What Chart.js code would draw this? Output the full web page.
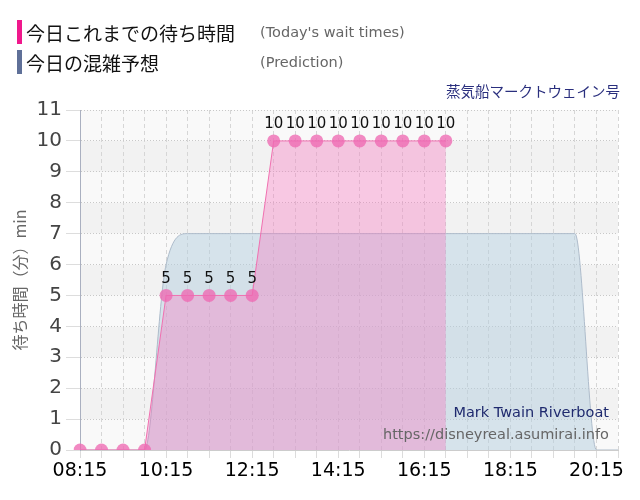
<!DOCTYPE html>
<html>
<head>
<meta charset="utf-8">
<script src="https://cdn.jsdelivr.net/npm/chart.js@4.4.0/dist/chart.umd.min.js"></script>
<style>
  html, body { margin: 0; padding: 0; background: #fff; }
  #wrap { position: relative; width: 640px; height: 500px; overflow: hidden; }
  #c { position: absolute; left: 0; top: 0; }
  .leg { position: absolute; left: 17px; height: 24px; display: flex; align-items: center; }
  .bar { width: 5px; height: 24px; margin-right: 4px; }
  .jp { font-family: "Noto Sans CJK JP", sans-serif; font-size: 19px; color: #111; width: 234px; }
  .en { font-family: "DejaVu Sans", sans-serif; font-size: 14.5px; color: #666; }
  .ttl { position: absolute; right: 20px; top: 80px; font-family: "Noto Sans CJK JP", sans-serif; font-size: 14.5px; color: #2a2f7e; }
  .wm { position: absolute; right: 31px; font-family: "DejaVu Sans", sans-serif; font-size: 14.5px; white-space: nowrap; }
</style>
</head>
<body>
<div id="wrap">
  <canvas id="c" width="640" height="500"></canvas>
  <div class="leg" style="top:20px"><div class="bar" style="background:#f0188c"></div><span class="jp">今日これまでの待ち時間</span><span class="en">(Today's wait times)</span></div>
  <div class="leg" style="top:50px"><div class="bar" style="background:#5f7098"></div><span class="jp">今日の混雑予想</span><span class="en">(Prediction)</span></div>
  <div class="ttl">蒸気船マークトウェイン号</div>
  <div class="wm" style="top:404px;color:#1f2a6e">Mark Twain Riverboat</div>
  <div class="wm" style="top:426px;color:#666">https://disneyreal.asumirai.info</div>
</div>
<script>
const timeLabels = ["08:15","08:45","09:15","09:45","10:15","10:45","11:15","11:45","12:15","12:45","13:15","13:45","14:15","14:45","15:15","15:45","16:15","16:45","17:15","17:45","18:15","18:45","19:15","19:45","20:15","20:45"];
const waitTimes = [0,0,0,0,5,5,5,5,5,10,10,10,10,10,10,10,10,10];
const prediction = [0,0,0,0,6,7,7,7,7,7,7,7,7,7,7,7,7,7,7,7,7,7,7,7,0,0];
const yTicks = [0,1,2,3,4,5,6,7,8,9,10,11];
const yTitle = "待ち時間（分）min";

const bandPlugin = {
  id: 'bands',
  beforeDraw(chart) {
    const {ctx, chartArea: a, scales: {y}} = chart;
    ctx.save();
    for (let k = 0; k < yTicks.length - 1; k++) {
      const t = y.getPixelForValue(yTicks[k + 1]);
      const b = y.getPixelForValue(yTicks[k]);
      ctx.fillStyle = (yTicks[k] % 2 === 1) ? '#f2f2f2' : '#f9f9f9';
      ctx.fillRect(a.left, t, a.right - a.left, b - t);
    }
    ctx.restore();
  }
};

const labelPlugin = {
  id: 'vlabels',
  afterDatasetsDraw(chart) {
    const {ctx} = chart;
    const meta = chart.getDatasetMeta(0);
    ctx.save();
    ctx.font = '15px "DejaVu Sans"';
    ctx.fillStyle = '#111';
    ctx.textAlign = 'center';
    ctx.textBaseline = 'bottom';
    meta.data.forEach((pt, i) => {
      const v = waitTimes[i];
      if (v > 0) ctx.fillText(String(v), pt.x, pt.y - 9);
    });
    ctx.restore();
  }
};

new Chart(document.getElementById('c'), {
  type: 'line',
  data: {
    labels: timeLabels,
    datasets: [
      {
        label: '今日これまでの待ち時間',
        data: waitTimes,
        borderColor: '#f070b0',
        borderWidth: 1,
        backgroundColor: 'rgba(248,115,188,0.36)',
        fill: 'origin',
        pointRadius: 6.5,
        pointBackgroundColor: 'rgba(238,105,178,0.78)',
        pointBorderColor: 'rgba(238,105,178,0.78)',
        pointBorderWidth: 0,
        tension: 0
      },
      {
        label: '今日の混雑予想',
        data: prediction,
        borderColor: '#aebccb',
        borderWidth: 1,
        backgroundColor: 'rgba(180,205,222,0.5)',
        fill: 'origin',
        pointRadius: 0,
        cubicInterpolationMode: 'monotone'
      }
    ]
  },
  options: {
    responsive: false,
    animation: false,
    layout: { padding: { top: 110, right: 22, left: 0, bottom: 0 } },
    plugins: { legend: { display: false }, tooltip: { enabled: false } },
    scales: {
      x: {
        offset: false,
        afterFit(s) { s.height = 50; },
        grid: { color: '#d6d6d6', tickLength: 8, tickColor: '#dcdcdc', tickBorderDash: [] },
        border: { color: '#cccccc', dash: [4, 3] },
        ticks: {
          autoSkip: false, maxRotation: 0, padding: 2,
          color: '#000', font: { family: 'DejaVu Sans', size: 19 },
          callback(v, i) { return i % 4 === 0 ? timeLabels[i] : ''; }
        }
      },
      y: {
        min: 0, max: 11,
        afterFit(s) { s.width = 80; },
        afterBuildTicks(s) { s.ticks = yTicks.map(v => ({ value: v })); },
        grid: { color: '#c8c8c8', tickLength: 14, tickColor: '#dddddd', tickBorderDash: [] },
        border: { color: '#aab0c0', dash: [1, 2] },
        ticks: { color: '#444', padding: 4, font: { family: 'DejaVu Sans', size: 20 } },
        title: { display: true, text: yTitle, color: '#666', padding: { top: 10, bottom: 0 }, font: { family: 'Noto Sans CJK JP', size: 16 } }
      }
    }
  },
  plugins: [bandPlugin, labelPlugin]
});
</script>
</body>
</html>
